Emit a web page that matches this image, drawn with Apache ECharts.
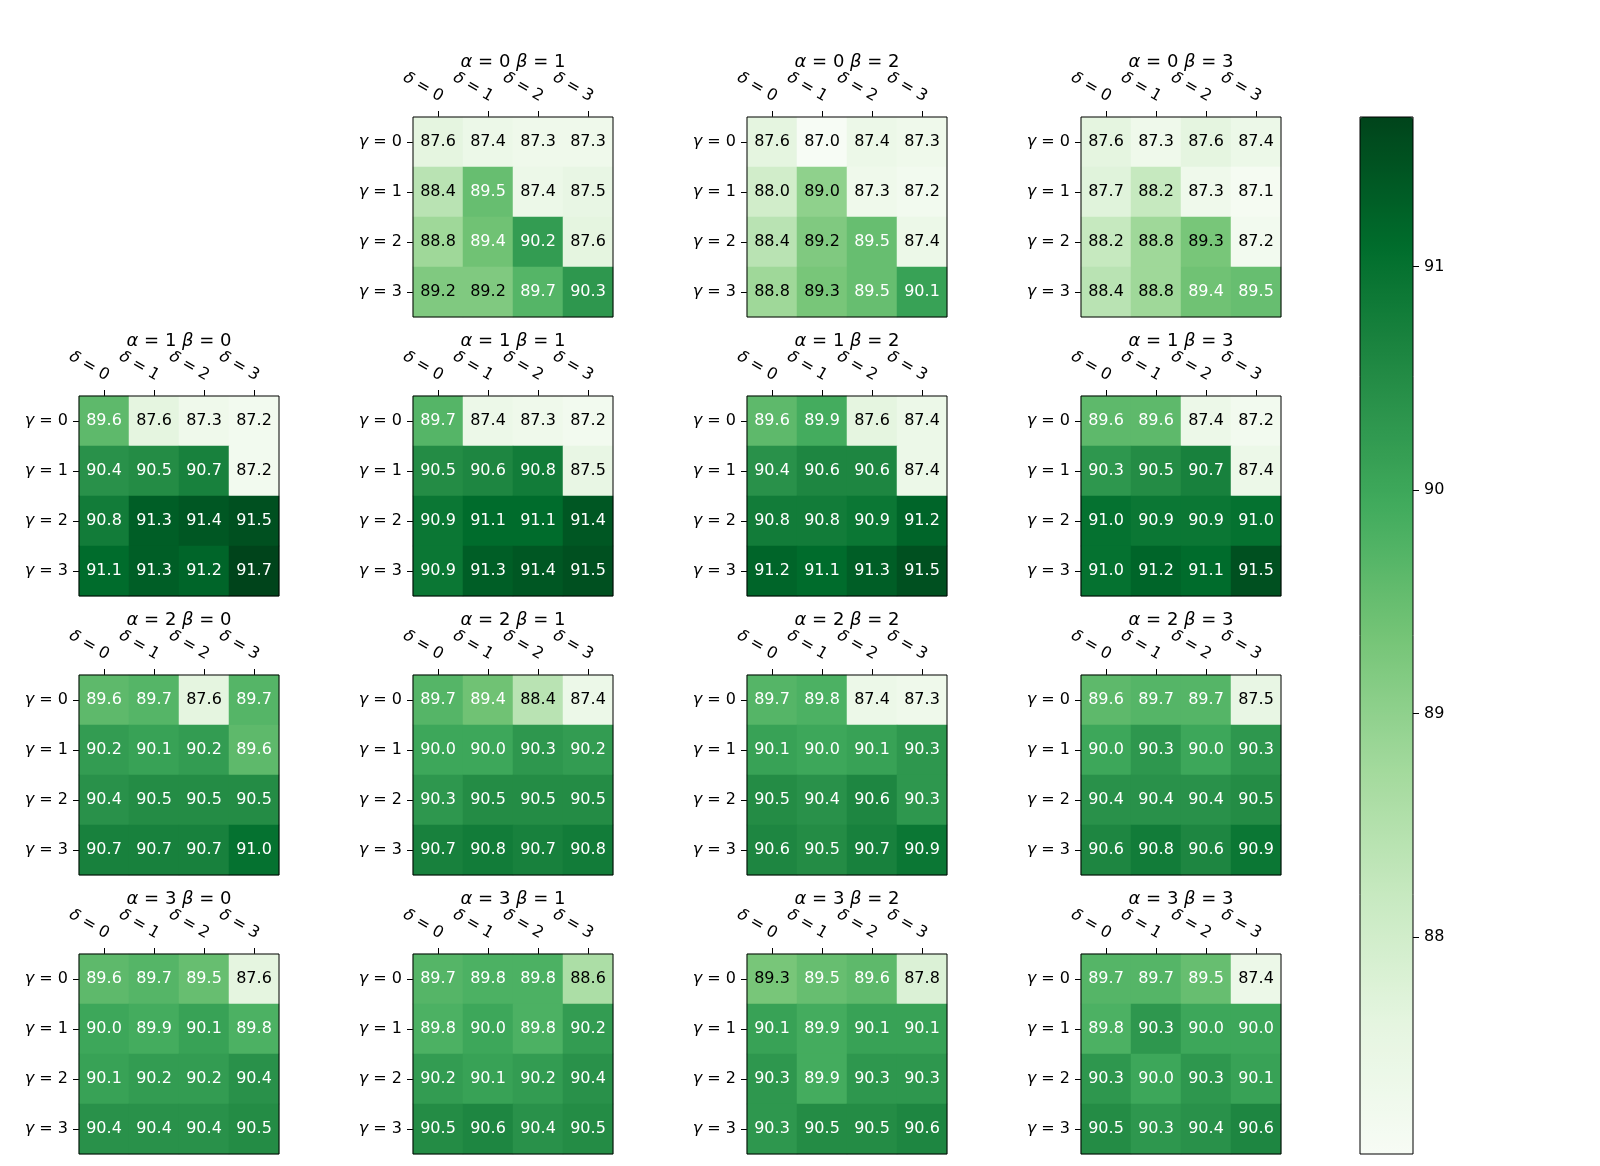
<!DOCTYPE html>
<html>
<head>
<meta charset="utf-8">
<title>heatmap grid</title>
<script src="https://cdn.jsdelivr.net/npm/echarts@6/dist/echarts.min.js"></script>
<style>
  html, body { margin: 0; padding: 0; background: #fff; }
  #main { width: 1600px; height: 1166px; }
</style>
</head>
<body>
<div id="main"></div>
<script>
// tick labels
var deltaVals = ['0', '1', '2', '3'];
var gammaVals = ['0', '1', '2', '3'];
var cbarTicks = [88, 89, 90, 91];
// colour range (data min / max)
var cbarMin = 87.03;
var cbarMax = 91.67;

// which panel is which (alpha = row, beta = column)
var panelAlpha = [0, 0, 0, 1, 1, 1, 1, 2, 2, 2, 2, 3, 3, 3, 3];
var panelBeta  = [1, 2, 3, 0, 1, 2, 3, 0, 1, 2, 3, 0, 1, 2, 3];

// values, rows = gamma 0..3, columns = delta 0..3
var a0b1 = [[87.6, 87.4, 87.3, 87.3], [88.4, 89.5, 87.4, 87.5], [88.8, 89.4, 90.2, 87.6], [89.2, 89.2, 89.7, 90.3]];
var a0b2 = [[87.6, 87.0, 87.4, 87.3], [88.0, 89.0, 87.3, 87.2], [88.4, 89.2, 89.5, 87.4], [88.8, 89.3, 89.5, 90.1]];
var a0b3 = [[87.6, 87.3, 87.6, 87.4], [87.7, 88.2, 87.3, 87.1], [88.2, 88.8, 89.3, 87.2], [88.4, 88.8, 89.4, 89.5]];
var a1b0 = [[89.6, 87.6, 87.3, 87.2], [90.4, 90.5, 90.7, 87.2], [90.8, 91.3, 91.4, 91.5], [91.1, 91.3, 91.2, 91.7]];
var a1b1 = [[89.7, 87.4, 87.3, 87.2], [90.5, 90.6, 90.8, 87.5], [90.9, 91.1, 91.1, 91.4], [90.9, 91.3, 91.4, 91.5]];
var a1b2 = [[89.6, 89.9, 87.6, 87.4], [90.4, 90.6, 90.6, 87.4], [90.8, 90.8, 90.9, 91.2], [91.2, 91.1, 91.3, 91.5]];
var a1b3 = [[89.6, 89.6, 87.4, 87.2], [90.3, 90.5, 90.7, 87.4], [91.0, 90.9, 90.9, 91.0], [91.0, 91.2, 91.1, 91.5]];
var a2b0 = [[89.6, 89.7, 87.6, 89.7], [90.2, 90.1, 90.2, 89.6], [90.4, 90.5, 90.5, 90.5], [90.7, 90.7, 90.7, 91.0]];
var a2b1 = [[89.7, 89.4, 88.4, 87.4], [90.0, 90.0, 90.3, 90.2], [90.3, 90.5, 90.5, 90.5], [90.7, 90.8, 90.7, 90.8]];
var a2b2 = [[89.7, 89.8, 87.4, 87.3], [90.1, 90.0, 90.1, 90.3], [90.5, 90.4, 90.6, 90.3], [90.6, 90.5, 90.7, 90.9]];
var a2b3 = [[89.6, 89.7, 89.7, 87.5], [90.0, 90.3, 90.0, 90.3], [90.4, 90.4, 90.4, 90.5], [90.6, 90.8, 90.6, 90.9]];
var a3b0 = [[89.6, 89.7, 89.5, 87.6], [90.0, 89.9, 90.1, 89.8], [90.1, 90.2, 90.2, 90.4], [90.4, 90.4, 90.4, 90.5]];
var a3b1 = [[89.7, 89.8, 89.8, 88.6], [89.8, 90.0, 89.8, 90.2], [90.2, 90.1, 90.2, 90.4], [90.5, 90.6, 90.4, 90.5]];
var a3b2 = [[89.3, 89.5, 89.6, 87.8], [90.1, 89.9, 90.1, 90.1], [90.3, 89.9, 90.3, 90.3], [90.3, 90.5, 90.5, 90.6]];
var a3b3 = [[89.7, 89.7, 89.5, 87.4], [89.8, 90.3, 90.0, 90.0], [90.3, 90.0, 90.3, 90.1], [90.5, 90.3, 90.4, 90.6]];

var panelValues = [a0b1, a0b2, a0b3, a1b0, a1b1, a1b2, a1b3, a2b0, a2b1, a2b2, a2b3, a3b0, a3b1, a3b2, a3b3];

// matplotlib "Greens"
var greens = ['#f7fcf5', '#e5f5e0', '#c7e9c0', '#a1d99b', '#74c476', '#41ab5d', '#238b45', '#006d2c', '#00441b'];

var FONT = 'DejaVu Sans';
var colLeft = [79, 413, 747, 1081];
var rowTop = [117, 396, 675, 954];
var boxSize = 200;
var textMid = (cbarMin + cbarMax) / 2;   // white text above this

// colorbar box
var cbLeft = 1360, cbTop = 117, cbWidth = 53, cbHeight = 1037;

// italic greek letter + upright rest
function richMath(size) {
  return {
    i: { fontStyle: 'italic', fontFamily: FONT, fontSize: size, color: '#000' },
    n: { fontFamily: FONT, fontSize: size, color: '#000' }
  };
}

// mode 0: padded labels, mode 1: larger margin, mode 2: plain
function buildOption(mode) {
  var grid = [], xAxis = [], yAxis = [], series = [], title = [];

  for (var p = 0; p < panelValues.length; p++) {
    var a = panelAlpha[p], b = panelBeta[p], vals = panelValues[p];
    var left = colLeft[b], top = rowTop[a];

    grid.push({
      left: left, top: top, width: boxSize, height: boxSize,
      show: true, borderColor: '#000', borderWidth: 1,
      backgroundColor: 'transparent', z: 5
    });

    var xLabel = {
      rotate: 30, margin: 15, interval: 0,
      formatter: function (v) { return '{i|δ}{n| = ' + v + '}'; },
      rich: richMath(16)
    };
    if (mode === 0) {
      xLabel.margin = 12;
      xLabel.padding = [0, 0, 16, 0];
    } else if (mode === 1) {
      xLabel.margin = 19;
    }
    xAxis.push({
      type: 'category', gridIndex: p, position: 'top', data: deltaVals,
      axisLine: { show: false },
      axisTick: { show: true, alignWithLabel: true, length: 6, lineStyle: { color: '#000' } },
      axisLabel: xLabel,
      splitLine: { show: false }
    });

    yAxis.push({
      type: 'category', gridIndex: p, inverse: true, data: gammaVals,
      axisLine: { show: false },
      axisTick: { show: true, alignWithLabel: true, length: 6, lineStyle: { color: '#000' } },
      axisLabel: {
        margin: 11, interval: 0,
        formatter: function (v) { return '{i|γ}{n| = ' + v + '}'; },
        rich: richMath(16)
      },
      splitLine: { show: false }
    });

    var data = [];
    for (var g = 0; g < gammaVals.length; g++) {
      for (var d = 0; d < deltaVals.length; d++) {
        var v = vals[g][d];
        data.push({
          value: [d, g, v],
          label: { color: v > textMid ? '#fff' : '#000' }
        });
      }
    }

    series.push({
      type: 'heatmap',
      xAxisIndex: p, yAxisIndex: p,
      data: data,
      label: {
        show: true, fontFamily: FONT, fontSize: 16,
        formatter: function (params) { return params.value[2].toFixed(1); }
      },
      itemStyle: { borderWidth: 0 },
      emphasis: { disabled: true }
    });

    title.push({
      text: '{i|α}{n| = ' + a + ' }{i|β}{n| = ' + b + '}',
      left: left + boxSize / 2, top: top - 64, textAlign: 'center',
      padding: 0,
      textStyle: {
        fontFamily: FONT, fontSize: 18, fontWeight: 'normal', color: '#000',
        rich: richMath(18)
      }
    });
  }

  // colorbar frame (the gradient itself comes from the visualMap)
  var cf = panelValues.length;
  grid.push({
    left: cbLeft, top: cbTop, width: cbWidth, height: cbHeight,
    show: true, borderColor: '#000', borderWidth: 1,
    backgroundColor: 'transparent', z: 10
  });
  xAxis.push({ type: 'category', gridIndex: cf, data: ['c'], show: false });
  yAxis.push({ type: 'value', gridIndex: cf, min: cbarMin, max: cbarMax, show: false });

  // colorbar ticks: an axis spanning first..last tick, placed on the same scale
  var pxPerUnit = cbHeight / (cbarMax - cbarMin);
  var tLo = cbarTicks[0], tHi = cbarTicks[cbarTicks.length - 1];
  var ct = cf + 1;
  grid.push({
    left: cbLeft, width: cbWidth,
    top: cbTop + (cbarMax - tHi) * pxPerUnit,
    height: (tHi - tLo) * pxPerUnit,
    show: false
  });
  xAxis.push({ type: 'category', gridIndex: ct, data: ['c'], show: false });
  yAxis.push({
    type: 'value', gridIndex: ct, position: 'right',
    min: tLo, max: tHi, interval: 1,
    axisLine: { show: false },
    axisTick: { show: true, length: 6, lineStyle: { color: '#000' } },
    axisLabel: { margin: 11, fontFamily: FONT, fontSize: 16, color: '#000' },
    splitLine: { show: false }
  });

  return {
    backgroundColor: '#fff',
    animation: false,
    title: title,
    grid: grid,
    xAxis: xAxis,
    yAxis: yAxis,
    visualMap: {
      type: 'continuous',
      min: cbarMin, max: cbarMax,
      calculable: false,
      orient: 'vertical',
      left: cbLeft, top: cbTop,
      itemWidth: cbWidth, itemHeight: cbHeight,
      padding: 0,
      seriesIndex: series.map(function (s, i) { return i; }),
      inRange: { color: greens }
    },
    series: series
  };
}

var el = document.getElementById('main');
var myChart;
for (var mode = 0; mode < 3; mode++) {
  try {
    myChart = echarts.init(el);
    myChart.setOption(buildOption(mode));
    break;
  } catch (e) {
    console.error('mode ' + mode + ' failed: ' + e.message);
    echarts.dispose(myChart);
  }
}
</script>
</body>
</html>
